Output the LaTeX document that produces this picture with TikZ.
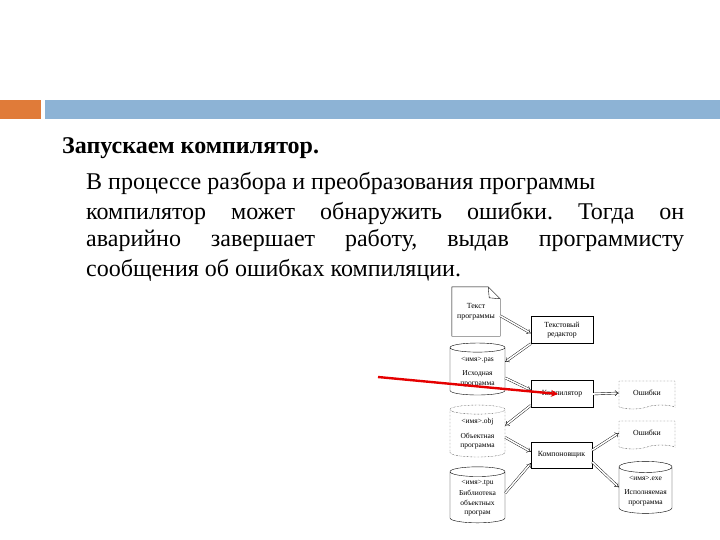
\documentclass[tikz,border=0pt]{standalone}
\usepackage{fontspec}
\setmainfont{Liberation Serif}
\usetikzlibrary{positioning,arrows.meta,shapes.geometric,shapes.symbols,calc}

\definecolor{barorange}{HTML}{E07B39}
\definecolor{barblue}{HTML}{8DB3D5}
\frenchspacing

\begin{document}
\begin{tikzpicture}[x=1pt, y=-1pt,
  body/.style={anchor=base west, inner sep=0pt, font=\fontsize{24}{29}\selectfont},
  box/.style={draw, thin, minimum width=62pt, minimum height=27pt, inner sep=1pt,
              align=center, font=\fontsize{7.8}{9}\selectfont},
  db/.style={cylinder, shape border rotate=90, draw, thin, aspect=0.25,
             minimum width=55pt, minimum height=52pt, inner sep=1pt,
             align=center, font=\fontsize{7.5}{9.5}\selectfont},
  errdoc/.style={tape, tape bend top=none, tape bend height=4pt, draw,
                 densely dotted, minimum width=56pt, minimum height=28pt,
                 font=\fontsize{7.8}{9}\selectfont},
  dbl/.style={double, double distance=1.6pt, thin, -{Implies}},
  hint/.style={red!90!black, line width=2.4pt, -{Stealth[length=7pt, width=7pt]}}
]
\useasboundingbox (0,0) rectangle (720,540);

% Header bar
\fill[barorange] (0,100) rectangle (41,119);
\fill[barblue] (45,100) rectangle (720,119);

% Text
\node[anchor=base west, inner sep=0pt, font=\bfseries\fontsize{24}{29}\selectfont]
  (title) at (62,154) {Запускаем компилятор.};
\node[body] (line1) at (86,190) {В процессе разбора и преобразования программы};
\node[body] (line2) at (86,219)
  {\makebox[598pt][s]{компилятор может обнаружить ошибки. Тогда он}};
\node[body] (line3) at (86,247)
  {\makebox[598pt][s]{аварийно завершает работу, выдав программисту}};
\node[body] (line4) at (86,276) {сообщения об ошибках компиляции.};

% Source text document
\node[minimum width=48pt, minimum height=49pt, align=center,
      font=\fontsize{7.8}{10}\selectfont] (textdoc) at (476,311.5)
  {Текст\\программы};
\draw[thin] (textdoc.north west) -- ($(textdoc.north east)+(-12,0)$)
  -- ($(textdoc.north east)+(0,12)$) -- (textdoc.south east)
  -- (textdoc.south west) -- cycle;
\draw[thin] ($(textdoc.north east)+(-12,0)$) -- ($(textdoc.north east)+(-11,11)$)
  -- ($(textdoc.north east)+(0,12)$);

% Boxes
\node[box] (editor) at (562,330) {Текстовый\\редактор};
\node[box] (comp) at (562,394) {Компилятор};
\node[box, minimum width=61pt, minimum height=26pt] (link) at (561.5,455) {Компоновщик};

% Files
\node[db] (pas) at (477.5,372)
  {\textless имя\textgreater.pas\\[5pt]Исходная\\программа};
\node[db, densely dotted] (obj) at (477.5,434)
  {\textless имя\textgreater.obj\\[5pt]Объектная\\программа};
\node[db, minimum height=56pt] (tpu) at (477.5,498)
  {\textless имя\textgreater.tpu\\[2pt]Библиотека\\объектных\\програм};
\node[db, minimum width=53pt] (exe) at (645.5,491)
  {\textless имя\textgreater.exe\\[5pt]Исполняемая\\программа};

% Error listings
\node[errdoc] (err1) at (647,393) {Ошибки};
\node[errdoc] (err2) at (647,433) {Ошибки};

% Arrows
\draw[dbl] (textdoc.-10) -- (editor.-174);
\draw[dbl] (editor.south west) -- (pas.20);
\draw[dbl] (pas.-12) -- (comp.173);
\draw[dbl] (comp.east) -- (err1.west);
\draw[dbl] (comp.-160) -- (obj.17);
\draw[dbl] (obj.-7) -- (link.174);
\draw[dbl] (tpu.10) -- (link.-165);
\draw[dbl] (link.9) -- (err2.west);
\draw[dbl] (link.-13) -- (exe.172);

% Pointer
\coordinate (hintstart) at (378,377);
\coordinate (hinttip) at (558,394);
\draw[hint] (hintstart) -- (hinttip);

\end{tikzpicture}
\end{document}
